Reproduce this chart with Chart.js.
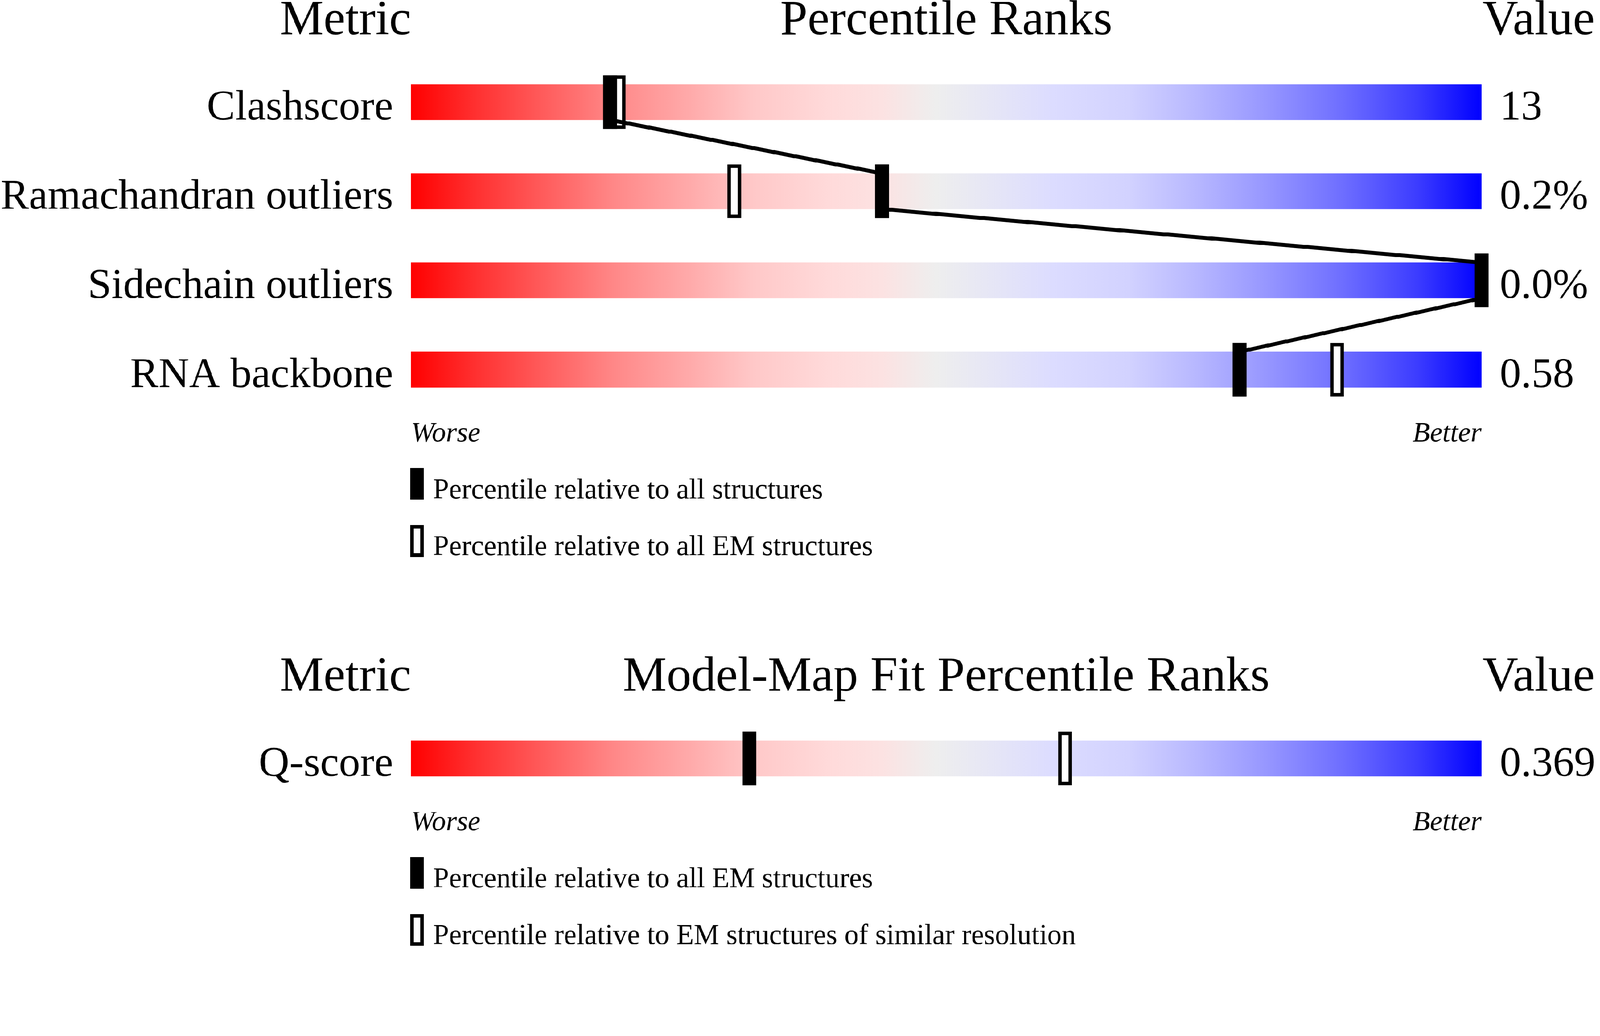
<!DOCTYPE html>
<html>
<head>
<meta charset="utf-8">
<title>Percentile Ranks</title>
<script src="https://cdn.jsdelivr.net/npm/chart.js@4/dist/chart.umd.min.js"></script>
<style>
    html, body { margin: 0; padding: 0; background: #fff; overflow: hidden; }
    #page { width: 4485px; height: 2652px; transform-origin: 0 0; }
    canvas { display: block; }
</style>
</head>
<body>
<div id="page">
    <canvas id="rankChart" width="4485" height="1650" style="width:4485px;height:1650px"></canvas>
    <canvas id="fitChart" width="4485" height="1002" style="width:4485px;height:1002px"></canvas>
</div>
<script>
// geometry quality panel
const metrics = ['Clashscore', 'Ramachandran outliers', 'Sidechain outliers', 'RNA backbone'];
const metricValues = ['13', '0.2%', '0.0%', '0.58'];
const pctAll = [18.6, 44.0, 100, 77.4];
const pctEM = [19.4, 30.2, 100, 86.5];

// model-map fit panel
const fitMetrics = ['Q-score'];
const fitValues = ['0.369'];
const fitPctEM = [31.6];
const fitPctSimilar = [61.1];

const fontFamily = '"Liberation Serif", "Times New Roman", serif';
const MARKER_HALF = 0.64;   // half marker width, in percentile units

const gradientStops = [
    [0.00, 'rgb(255,0,0)'],
    [0.06, 'rgb(255,48,48)'],
    [0.13, 'rgb(255,96,96)'],
    [0.19, 'rgb(255,136,136)'],
    [0.26, 'rgb(255,170,170)'],
    [0.32, 'rgb(255,200,200)'],
    [0.39, 'rgb(255,218,218)'],
    [0.44, 'rgb(252,226,226)'],
    [0.49, 'rgb(238,238,238)'],
    [0.53, 'rgb(232,232,244)'],
    [0.60, 'rgb(220,220,255)'],
    [0.67, 'rgb(210,210,255)'],
    [0.73, 'rgb(185,185,255)'],
    [0.80, 'rgb(150,150,255)'],
    [0.87, 'rgb(110,110,255)'],
    [0.94, 'rgb(60,60,255)'],
    [1.00, 'rgb(0,0,255)']
];

// the drawing is laid out for 4485x2652; fit it to whatever viewport we get
const page = document.getElementById('page');
const fit = Math.min(window.innerWidth / 4485, window.innerHeight / 2652);
page.style.transform = 'scale(' + fit + ')';

function barGradient(context) {
    const chart = context.chart;
    const area = chart.chartArea;
    if (!area) return '#eeeeee';
    const g = chart.ctx.createLinearGradient(area.left, 0, area.right, 0);
    gradientStops.forEach(function (s) { g.addColorStop(s[0], s[1]); });
    return g;
}

function markerSpans(values) {
    return values.map(function (v) { return [v - MARKER_HALF, v + MARKER_HALF]; });
}

function drawMarker(ctx, x, y, w, h, filled) {
    ctx.fillStyle = '#000';
    ctx.fillRect(x, y, w, h);
    if (!filled) {
        ctx.fillStyle = '#fff';
        ctx.fillRect(x + 10, y + 10, w - 20, h - 20);
    }
}

// lines between the black markers, bottom of one bar to top of the next
const rankLinks = {
    id: 'rankLinks',
    beforeDatasetDraw(chart, args, opts) {
        if (args.index !== 0 || !opts.values || opts.values.length < 2) return;
        const ctx = chart.ctx;
        const xs = chart.scales.x;
        const ys = chart.scales.y;
        ctx.save();
        ctx.strokeStyle = '#000';
        ctx.lineWidth = 11;
        ctx.beginPath();
        for (let i = 0; i < opts.values.length - 1; i++) {
            ctx.moveTo(xs.getPixelForValue(opts.values[i]), ys.getPixelForTick(i) + 50);
            ctx.lineTo(xs.getPixelForValue(opts.values[i + 1]), ys.getPixelForTick(i + 1) - 50);
        }
        ctx.stroke();
        ctx.restore();
    }
};

// headers, Worse/Better and the marker legend
const panelText = {
    id: 'panelText',
    afterDraw(chart, args, opts) {
        const ctx = chart.ctx;
        const area = chart.chartArea;
        const ys = chart.scales.y;
        const last = ys.getPixelForTick(ys.ticks.length - 1);
        ctx.save();
        ctx.fillStyle = '#000';
        ctx.textBaseline = 'alphabetic';

        ctx.font = '138px ' + fontFamily;
        const headY = area.top - 65;
        ctx.textAlign = 'right';
        ctx.fillText('Metric', area.left, headY);
        ctx.textAlign = 'center';
        ctx.fillText(opts.title, (area.left + area.right) / 2, headY);
        ctx.textAlign = 'left';
        ctx.fillText('Value', area.right + 3, headY);

        ctx.font = 'italic 79px ' + fontFamily;
        ctx.textAlign = 'left';
        ctx.fillText('Worse', area.left, last + 201);
        ctx.textAlign = 'right';
        ctx.fillText('Better', area.right, last + 201);

        ctx.font = '80px ' + fontFamily;
        ctx.textAlign = 'left';
        opts.legend.forEach(function (text, i) {
            drawMarker(ctx, area.left - 2, last + 276 + i * 160, 38, 89, i === 0);
            ctx.fillStyle = '#000';
            ctx.fillText(text, area.left + 62, last + 361 + i * 159);
        });
        ctx.restore();
    }
};

function makePanel(canvasId, labels, values, filledPct, openPct, title, legend, padTop, padBottom) {
    const ctx = document.getElementById(canvasId).getContext('2d');
    const tickFont = { family: fontFamily, size: 119 };
    return new Chart(ctx, {
        type: 'bar',
        data: {
            labels: labels,
            datasets: [
                {
                    label: legend[0],
                    data: markerSpans(filledPct),
                    backgroundColor: '#000',
                    borderWidth: 0,
                    barThickness: 150,
                    grouped: false,
                    clip: false
                },
                {
                    label: legend[1],
                    data: markerSpans(openPct),
                    backgroundColor: '#fff',
                    borderColor: '#000',
                    borderWidth: 10,
                    borderSkipped: false,
                    barThickness: 150,
                    grouped: false,
                    clip: false
                },
                {
                    label: 'range',
                    data: labels.map(function () { return 100; }),
                    backgroundColor: barGradient,
                    borderWidth: 0,
                    barThickness: 100,
                    grouped: false
                }
            ]
        },
        options: {
            indexAxis: 'y',
            responsive: false,
            animation: false,
            events: [],
            layout: { padding: { top: padTop, bottom: padBottom, left: 0, right: 0 } },
            plugins: {
                legend: { display: false },
                tooltip: { enabled: false },
                rankLinks: { values: filledPct },
                panelText: { title: title, legend: legend }
            },
            scales: {
                x: { type: 'linear', min: 0, max: 100, display: false },
                y: {
                    type: 'category',
                    position: 'left',
                    offset: true,
                    grid: { display: false },
                    border: { display: false },
                    ticks: { font: tickFont, color: '#000', padding: 42, labelOffset: 18, autoSkip: false },
                    afterFit: function (scale) { scale.width = 1152; }
                },
                yv: {
                    type: 'category',
                    position: 'right',
                    labels: values,
                    offset: true,
                    grid: { display: false },
                    border: { display: false },
                    ticks: { font: tickFont, color: '#000', padding: 43, labelOffset: 18, autoSkip: false },
                    afterFit: function (scale) { scale.width = 332; }
                }
            }
        },
        plugins: [rankLinks, panelText]
    });
}

makePanel('rankChart', metrics, metricValues, pctAll, pctEM, 'Percentile Ranks',
    ['Percentile relative to all structures', 'Percentile relative to all EM structures'], 161, 489);
makePanel('fitChart', fitMetrics, fitValues, fitPctEM, fitPctSimilar, 'Model-Map Fit Percentile Ranks',
    ['Percentile relative to all EM structures', 'Percentile relative to EM structures of similar resolution'], 351, 401);
</script>
</body>
</html>
